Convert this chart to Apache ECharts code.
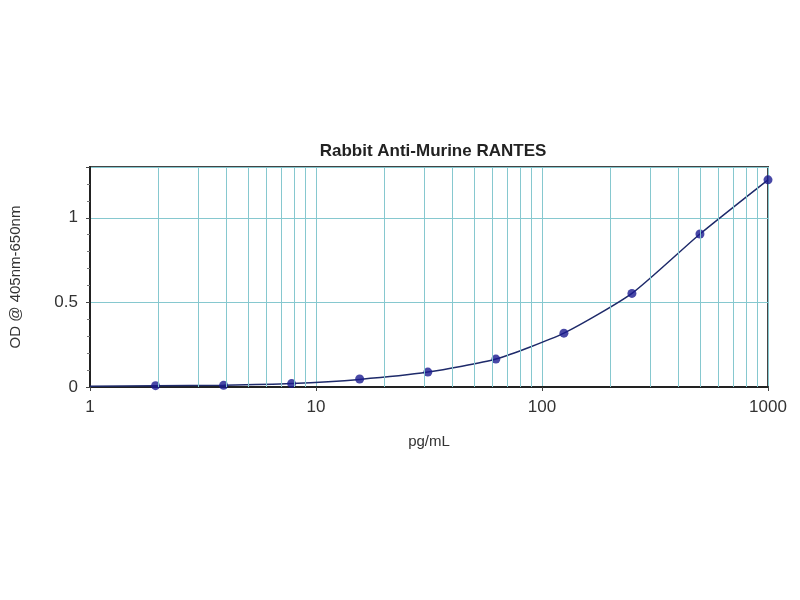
<!DOCTYPE html>
<html>
<head>
<meta charset="utf-8">
<script src="https://cdn.jsdelivr.net/npm/echarts@6/dist/echarts.min.js"></script>
<style>
  html, body { margin: 0; padding: 0; background: #fff; }
  #chart { width: 800px; height: 600px; }
</style>
</head>
<body>
<div id="chart"></div>
<script>
// standard concentrations (pg/mL) and OD readings
var conc = [1.95, 3.9, 7.8, 15.6, 31.25, 62.5, 125, 250, 500, 1000];
var od = [0.008, 0.01, 0.02, 0.047, 0.088, 0.165, 0.318, 0.553, 0.904, 1.224];
// fitted curve
var curveX = [1, 1.95, 3.9, 7.8, 15.6, 31.25, 62.5, 125, 250, 500, 1000];
var curveY = [0.004, 0.007, 0.011, 0.021, 0.045, 0.088, 0.165, 0.318, 0.553, 0.904, 1.224];
// minor grid lines on the log axis
var minorX = [2, 3, 4, 5, 6, 7, 8, 9, 20, 30, 40, 50, 60, 70, 80, 90, 200, 300, 400, 500, 600, 700, 800, 900];

var font = 'Liberation Sans, Arial, sans-serif';
var gridColor = '#86c8cf';

var points = conc.map(function (c, i) { return [c, od[i]]; });
var curve = curveX.map(function (c, i) { return [c, curveY[i]]; });

var option = {
  animation: false,
  title: {
    text: 'Rabbit Anti-Murine RANTES',
    left: 428,
    textAlign: 'center',
    top: 138,
    textStyle: { fontFamily: font, fontSize: 17, fontWeight: 'bold', color: '#222' }
  },
  grid: {
    left: 88, right: 32, top: 167, bottom: 213,
    show: true, borderColor: '#444', borderWidth: 2, backgroundColor: '#fff'
  },
  xAxis: {
    type: 'log',
    logBase: 10,
    min: 1,
    max: 1000,
    name: 'pg/mL',
    nameLocation: 'middle',
    nameGap: 47,
    nameTextStyle: { fontFamily: font, fontSize: 15, color: '#333' },
    axisLine: { lineStyle: { color: '#222', width: 2 } },
    axisTick: { length: 4, lineStyle: { color: '#444' } },
    axisLabel: {
      fontFamily: font, fontSize: 17, color: '#333', margin: 12,
      formatter: function (v) { return String(Math.round(v)); }
    },
    splitLine: { show: true, lineStyle: { color: gridColor, width: 1 } }
  },
  yAxis: {
    type: 'value',
    min: 0,
    max: 1.3,
    interval: 0.5,
    name: 'OD @ 405nm-650nm',
    nameLocation: 'middle',
    nameGap: 67,
    nameTextStyle: { fontFamily: font, fontSize: 15, color: '#333' },
    axisLine: { show: true, lineStyle: { color: '#222', width: 2 } },
    axisTick: { show: true, length: 4, lineStyle: { color: '#444' } },
    minorTick: { show: true, splitNumber: 5, length: 3, lineStyle: { color: '#777' } },
    axisLabel: { fontFamily: font, fontSize: 17, color: '#333', margin: 12, showMaxLabel: false },
    splitLine: { show: true, lineStyle: { color: gridColor, width: 1 } }
  },
  series: [
    {
      name: 'grid',
      type: 'line',
      data: [],
      silent: true,
      markLine: {
        silent: true,
        symbol: 'none',
        label: { show: false },
        lineStyle: { color: gridColor, width: 1, type: 'solid' },
        data: minorX.map(function (v) { return { xAxis: v }; })
      }
    },
    {
      name: 'curve',
      type: 'line',
      data: curve,
      smooth: 0.2,
      showSymbol: false,
      lineStyle: { color: '#1e2a6a', width: 1.5 },
      z: 3
    },
    {
      name: 'standards',
      type: 'scatter',
      data: points,
      symbolSize: 9,
      itemStyle: { color: '#1a1a90' },
      z: 4
    }
  ]
};

var chart = echarts.init(document.getElementById('chart'));
chart.setOption(option, true);
</script>
</body>
</html>
